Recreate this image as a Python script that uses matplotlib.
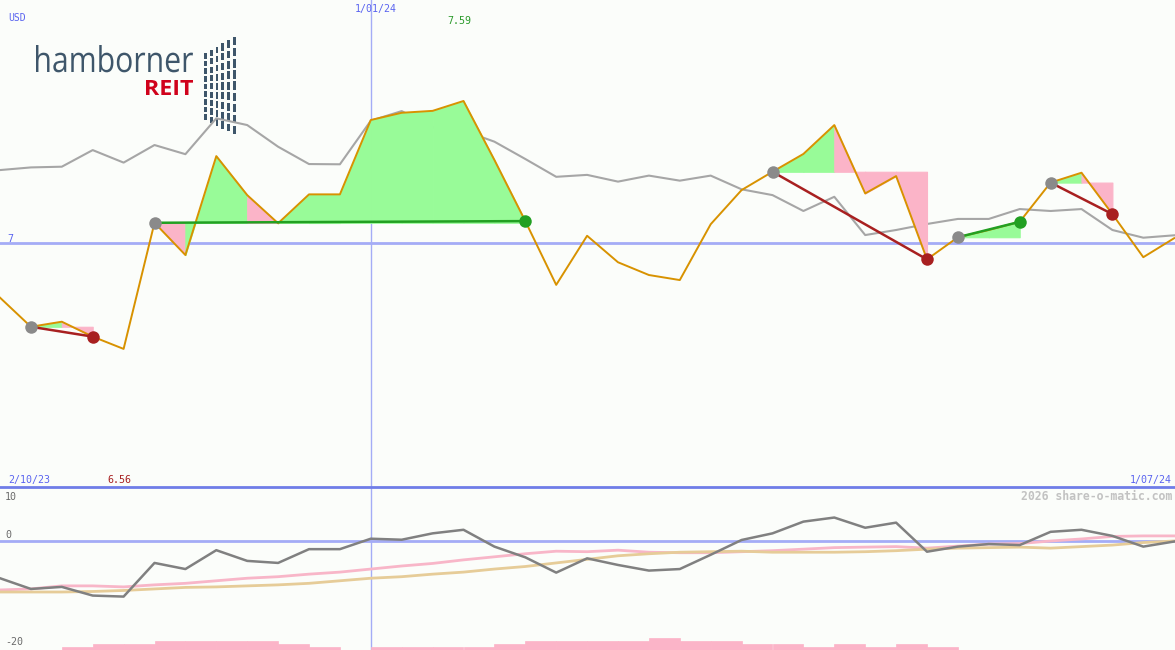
import numpy as np
import matplotlib
matplotlib.use('Agg')
import matplotlib.pyplot as plt
from matplotlib.patches import Rectangle, PathPatch
from matplotlib.textpath import TextPath
from matplotlib.font_manager import FontProperties
from matplotlib.transforms import Affine2D


# weekly closes, 9 Oct 2023 .. 1 Jul 2024
weeks = np.arange(39)
price = [6.773, 6.652, 6.673, 6.611, 6.56, 7.084, 6.950, 7.361, 7.199, 7.082,
         7.202, 7.202, 7.511, 7.541, 7.549, 7.59, 7.345, 7.091, 6.826, 7.030,
         6.920, 6.867, 6.846, 7.078, 7.220, 7.296, 7.370, 7.490, 7.206, 7.278,
         6.932, 7.024, 7.054, 7.088, 7.251, 7.292, 7.120, 6.941, 7.020]
# comparison line (grey)
bench = [7.303, 7.314, 7.317, 7.386, 7.334, 7.407, 7.369, 7.518, 7.490, 7.400,
         7.328, 7.327, 7.508, 7.548, 7.481, 7.467, 7.421, 7.349, 7.275, 7.283,
         7.255, 7.280, 7.259, 7.280, 7.223, 7.199, 7.133, 7.192, 7.033, 7.054,
         7.079, 7.100, 7.100, 7.141, 7.133, 7.141, 7.054, 7.022, 7.032]
# trades: entry / exit week index
entries = [1, 5, 25, 31, 34]
exits = [3, 17, 30, 33, 36]

# lower panel
osc = [-7.3, -9.4, -9.0, -10.7, -10.9, -4.3, -5.5, -1.8, -3.9, -4.3,
       -1.6, -1.6, 0.45, 0.25, 1.5, 2.2, -1.1, -3.2, -6.2, -3.4,
       -4.7, -5.8, -5.5, -2.7, 0.2, 1.5, 3.8, 4.6, 2.6, 3.6,
       -2.1, -1.1, -0.6, -0.8, 1.8, 2.2, 1.0, -1.1, -0.1]
avg_fast = [-9.6, -9.4, -8.8, -8.8, -9.0, -8.6, -8.3, -7.8, -7.3, -7.0,
            -6.5, -6.1, -5.5, -4.9, -4.4, -3.7, -3.1, -2.5, -2.0, -2.1,
            -1.8, -2.2, -2.3, -2.3, -2.1, -1.9, -1.6, -1.3, -1.2, -1.1,
            -1.4, -1.0, -0.6, -0.5, 0.0, 0.4, 0.9, 1.0, 1.0]
avg_slow = [-10.0, -10.0, -10.0, -9.9, -9.7, -9.4, -9.1, -9.0, -8.8, -8.6,
            -8.3, -7.8, -7.3, -7.0, -6.5, -6.1, -5.5, -5.0, -4.3, -3.6,
            -2.9, -2.5, -2.2, -2.1, -2.0, -2.2, -2.2, -2.2, -2.1, -1.9,
            -1.6, -1.4, -1.3, -1.2, -1.4, -1.1, -0.8, -0.3, 0.0]
volume = [0, 0, 1, 2, 2, 3, 3, 3, 3, 2, 1, 0, 1, 1, 1, 1, 2, 3, 3, 3,
          3, 4, 3, 3, 2, 2, 1, 2, 1, 2, 1, 0, 0, 0, 0, 0, 0, 0]

BG = '#fbfdfa'
BLUE_TXT = '#5a64f0'
ORANGE = '#d89200'
GREEN_FILL = '#98fb98'
PINK_FILL = '#fbb4c8'
WIN = '#22a022'
LOSS = '#a82020'
LOGO = '#3e566a'

W, H = 1175, 650
fig = plt.figure(figsize=(W / 100, H / 100), dpi=100, facecolor=BG)


def px(x, y):
    return x / W, 1 - y / H


def boxed_text(ax, s, x0, x1, y_top, y_base, color, weight='normal'):
    """draw text as a path squeezed into a pixel box (y axis points down)"""
    tp = TextPath((0, 0), s, size=10,
                  prop=FontProperties(family='Open Sans', weight=weight))
    ext = tp.get_extents()
    sx = (x1 - x0) / ext.width
    sy = (y_base - y_top) / ext.y1
    tr = Affine2D().translate(-ext.x0, 0).scale(sx, -sy).translate(x0, y_base)
    ax.add_patch(PathPatch(tr.transform_path(tp), color=color, lw=0))


# logo (behind the chart)
logo = fig.add_axes([0, 0, 1, 1], zorder=0)
logo.set_xlim(0, W)
logo.set_ylim(H, 0)
logo.axis('off')
boxed_text(logo, 'hamborner', 36, 193, 45, 72, LOGO)
boxed_text(logo, 'REIT', 146, 193, 80, 95, '#d0021b', weight='bold')
for c in range(6):
    cx = 204 + c * 5.8
    top = 53 - c * 3.2
    bot = 122 + c * 3.0
    step = (bot - top) / 9
    for r in range(9):
        logo.add_patch(Rectangle((cx, top + r * step), 2.8, step * 0.75,
                                 color=LOGO, lw=0))

# main price panel
ax = fig.add_axes([0, 163 / H, 1, 487 / H], zorder=1)
ax.set_facecolor('none')
ax.set_xlim(0, 1175 / 30.9)
ax.set_ylim(7 - 244 / 240.7, 7 + 243 / 240.7)
ax.axhline(7, color='#a4acf6', lw=2, zorder=1)
ax.axvline(12, color='#a4acf6', lw=1, zorder=1)

ax.plot(weeks, bench, color='#a6a6a6', lw=1.5, zorder=2)

for e, x in zip(entries, exits):
    lvl = price[e]
    for k in range(e, x):
        col = GREEN_FILL if price[k + 1] > lvl else PINK_FILL
        ax.fill_between(weeks[k:k + 2], lvl, price[k:k + 2], facecolor=col,
                        edgecolor=col, lw=0.8, zorder=3)

ax.plot(weeks, price, color=ORANGE, lw=1.4, zorder=4)

for e, x in zip(entries, exits):
    col = WIN if price[x] > price[e] else LOSS
    ax.plot([e, x], [price[e], price[x]], color=col, lw=1.8, zorder=5)
    ax.plot(e, price[e], 'o', color='#8a8a8a', ms=9, mew=0, zorder=6)
    ax.plot(x, price[x], 'o', color=col, ms=9, mew=0, zorder=6)
ax.axis('off')

# lower panel
bot = fig.add_axes([0, 0, 1, 163 / H], zorder=1)
bot.set_facecolor('none')
bot.set_xlim(0, 1175 / 30.9)
bot.set_ylim(-109 / 5.1, 54 / 5.1)
bot.axhline(0, color='#a4acf6', lw=2, zorder=1)
bot.axvline(12, color='#a4acf6', lw=1, zorder=1)
bot.plot(weeks, avg_fast, color='#f8b6c8', lw=2, zorder=2)
bot.plot(weeks, avg_slow, color='#e6cc98', lw=2, zorder=2)
bot.plot(weeks, osc, color='#808080', lw=1.8, zorder=3)
bot.axis('off')

vol = bot.twinx()
vol.set_ylim(0, 163 / 3)
vol.bar(weeks[:-1], volume, width=1, align='edge', color=PINK_FILL,
        edgecolor=PINK_FILL, lw=0.5)
vol.axis('off')

# separator
fig.add_artist(plt.Line2D([0, 1], [163 / H, 163 / H], color='#6f7de8', lw=2))

# texts
mono = 'DejaVu Sans Mono'
fig.text(*px(8, 21), 'USD', color=BLUE_TXT, fontsize=7, family=mono, va='baseline')
fig.text(*px(376, 12), '1/01/24', color=BLUE_TXT, fontsize=7.2, family=mono,
         ha='center', va='baseline')
fig.text(*px(459, 24), '7.59', color='#2a9a2a', fontsize=7.2, family=mono,
         ha='center', va='baseline')
fig.text(*px(7, 242), '7', color=BLUE_TXT, fontsize=7.2, family=mono, va='baseline')
fig.text(*px(8, 483), '2/10/23', color=BLUE_TXT, fontsize=7.2, family=mono,
         va='baseline')
fig.text(*px(119, 483), '6.56', color=LOSS, fontsize=7.2, family=mono,
         ha='center', va='baseline')
fig.text(*px(1172, 483), '1/07/24', color=BLUE_TXT, fontsize=7.2, family=mono,
         ha='right', va='baseline')
fig.text(*px(1172, 500), '2026 share-o-matic.com', color='#c2c2c2', fontsize=8.3,
         family=mono, fontweight='bold', ha='right', va='baseline')
fig.text(*px(5, 500), '10', color='#6a6a6a', fontsize=7.2, family=mono, va='baseline')
fig.text(*px(5, 538), '0', color='#6a6a6a', fontsize=7.2, family=mono, va='baseline')
fig.text(*px(5, 645), '-20', color='#6a6a6a', fontsize=7.2, family=mono,
         va='baseline')

fig.savefig('out.png', dpi=100, facecolor=BG)
